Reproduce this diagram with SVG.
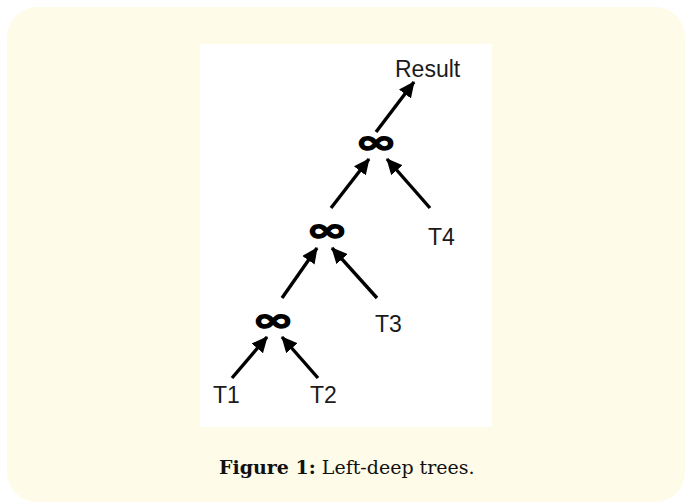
<svg xmlns="http://www.w3.org/2000/svg" width="687" height="503" viewBox="0 0 687 503">
<defs>
<style>
.lbl{font-family:"Liberation Sans",Arial,sans-serif;font-size:23px;fill:#1a1a1a}
.join{font-family:"DejaVu Sans",sans-serif;font-weight:bold;font-size:48px;fill:#000;stroke:#000;stroke-width:1.8;text-anchor:middle}
.edge{stroke:#000;stroke-width:3.4;fill:none;marker-end:url(#ah)}
.cap{font-family:"DejaVu Serif","Liberation Serif",serif;font-size:19px;fill:#111}
</style>
<marker id="ah" markerUnits="userSpaceOnUse" markerWidth="17" markerHeight="15" refX="15" refY="7.5" orient="auto">
<path d="M0,0 L16,7.5 L0,15 Z" fill="#000"/>
</marker>
</defs>
<rect x="7" y="7" width="678" height="495" rx="30" ry="30" fill="#fefbe8"/>
<rect x="200" y="44" width="292" height="383" fill="#ffffff"/>
<g id="connectors">
<line class="edge" x1="376" y1="132" x2="414" y2="82"/>
<line class="edge" x1="331" y1="208" x2="369" y2="159"/>
<line class="edge" x1="430" y1="208" x2="387" y2="159"/>
<line class="edge" x1="282" y1="298" x2="317" y2="248"/>
<line class="edge" x1="377" y1="298" x2="332" y2="248"/>
<line class="edge" x1="232" y1="378" x2="267" y2="337"/>
<line class="edge" x1="318" y1="378" x2="282" y2="337"/>
</g>
<g id="result"><text class="lbl" x="395" y="77">Result</text></g>
<g id="join1"><text class="join" transform="translate(376,153) scale(1.05,0.68)">∞</text></g>
<g id="join2"><text class="join" transform="translate(327,241) scale(1.05,0.68)">∞</text></g>
<g id="join3"><text class="join" transform="translate(273,331) scale(1.05,0.68)">∞</text></g>
<g id="t4"><text class="lbl" x="428" y="245">T4</text></g>
<g id="t3"><text class="lbl" x="375" y="332">T3</text></g>
<g id="t1"><text class="lbl" x="213" y="403">T1</text></g>
<g id="t2"><text class="lbl" x="310" y="403">T2</text></g>
<g id="caption"><text class="cap" x="219" y="474"><tspan font-weight="bold">Figure 1:</tspan> Left-deep trees.</text></g>
</svg>
